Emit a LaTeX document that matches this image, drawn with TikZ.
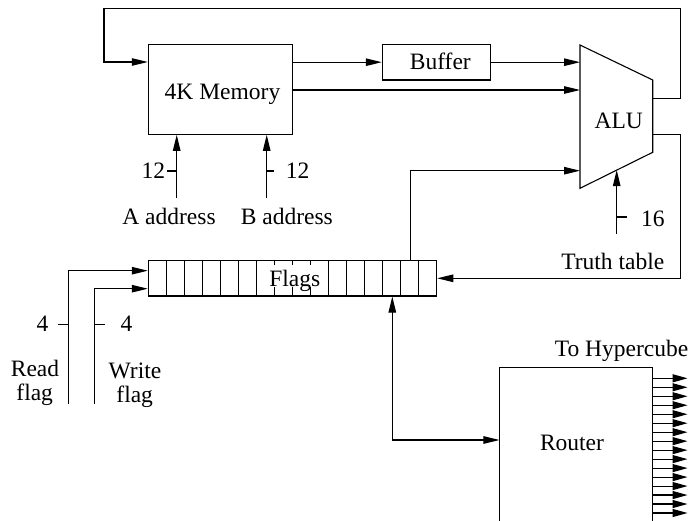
\documentclass[tikz,border=0pt]{standalone}
\usepackage{fontspec}
\setmainfont{Liberation Serif}
\usetikzlibrary{arrows.meta}
\begin{document}
\begin{tikzpicture}[x=1pt,y=-1pt,line width=1.1pt,
  every node/.style={font=\fontsize{23.5}{24}\selectfont,inner sep=0pt},
  arr/.style={-{Triangle[length=16pt,width=7.5pt]}},
  harr/.style={-{Triangle[length=15pt,width=8pt]}},
  bidir/.style={{Triangle[length=16pt,width=7.5pt]}-{Triangle[length=16pt,width=7.5pt]}},
  lbl/.style={anchor=base}]
\useasboundingbox (0,0) rectangle (692,521);

% blocks
\node[draw,minimum width=144pt,minimum height=90pt] (mem) at (220.3,89.3) {};
\node[lbl] (memt) at (222.5,100) {4K Memory};
\node[draw,minimum width=108.4pt,minimum height=35.7pt] (buf) at (436.5,62.2) {};
\node[lbl] (buft) at (440.3,70) {Buffer};

\coordinate (aluTL) at (580,45);
\coordinate (aluTR) at (652.7,80);
\coordinate (aluBR) at (652.7,152.3);
\coordinate (aluBL) at (580,188.3);
\draw (aluTL) -- (aluTR) -- (aluBR) -- (aluBL) -- cycle;
\node[lbl] (alut) at (618.7,128.3) {ALU};
\coordinate (aluB) at (616.7,170.1);

\node[draw,minimum width=288.4pt,minimum height=35.3pt] (flags) at (292.5,278.35) {};
\foreach \i in {1,...,15}
  \draw ({148.3+18.025*\i},260.7) -- ({148.3+18.025*\i},296);
\node[lbl,fill=white,text height=20pt,text depth=0pt,inner xsep=1.5pt,inner ysep=1pt] (flagst) at (294.8,286) {Flags};

\node[minimum width=152.3pt,minimum height=152.7pt] (router) at (576.15,444.65) {};
\draw (router.south west) -- (router.north west) -- (router.north east) -- (router.south east);
\node[lbl] (routert) at (572,450.7) {Router};
\node[lbl] (hyper) at (621.5,356) {To Hypercube};

% feedback loop ALU -> memory
\coordinate (fb1) at (680.7,98.3);
\coordinate (fb2) at (680.7,8.3);
\coordinate (fb3) at (104,8.3);
\coordinate (fb4) at (104,62);
\draw[arr] (aluTR |- fb1) -- (fb1) -- (fb2) -- (fb3) -- (fb4) -- (mem.west |- fb4);

% memory -> buffer -> ALU, memory -> ALU
\draw[arr] (mem.east |- buf.west) -- (buf.west);
\draw[arr] (buf.east) -- (aluTL |- buf.east);
\coordinate (m2) at (292.3,90);
\draw[arr] (m2) -- (aluTL |- m2);

% addresses
\coordinate (aa) at (176.7,198);
\coordinate (ba) at (266.7,198);
\draw[arr] (aa) -- (aa |- mem.south);
\draw[arr] (ba) -- (ba |- mem.south);
\draw (176.7,171) -- (166.7,171);
\draw (266.7,171) -- (274.3,171);
\node[lbl] (a12) at (153.3,178.3) {12};
\node[lbl] (b12) at (297.5,178.3) {12};
\node[lbl] (aat) at (169,224) {A address};
\node[lbl] (bat) at (286.8,224) {B address};

% flags -> ALU
\coordinate (fl1) at (410.7,170.7);
\draw[arr] (fl1 |- flags.north) -- (fl1) -- (aluTL |- fl1);

% truth table
\coordinate (tt) at (616.7,234);
\draw[arr] (tt) -- (aluB);
\draw (616.7,217) -- (626.5,217);
\node[lbl] (t16) at (652.8,226) {16};
\node[lbl] (ttt) at (612.8,269.3) {Truth table};

% ALU -> flags
\coordinate (af1) at (680.7,134.3);
\coordinate (af2) at (680.7,278.3);
\draw[arr] (aluBR |- af1) -- (af1) -- (af2) -- (flags.east |- af2);

% read / write flags
\coordinate (rf) at (68.3,404.3);
\coordinate (wf) at (94.7,404.3);
\draw[arr] (rf) -- (68.3,270.7) -- (flags.west |- 0,270.7);
\draw[arr] (wf) -- (94.7,288.7) -- (flags.west |- 0,288.7);
\draw (58.3,324.3) -- (68.3,324.3);
\draw (94.7,324.3) -- (105,324.3);
\node[lbl] (r4) at (42.5,331.7) {4};
\node[lbl] (w4) at (126.5,331.7) {4};
\node[lbl] (rt1) at (35,376.7) {Read};
\node[lbl] (rt2) at (34.7,400.5) {flag};
\node[lbl] (wt1) at (135,378.3) {Write};
\node[lbl] (wt2) at (134.7,402) {flag};

% flags <-> router
\coordinate (fr) at (392.3,440);
\draw[bidir] (fr |- flags.south) -- (fr) -- (router.west |- fr);

% hypercube outputs
\foreach \k in {0,...,15}
  \draw[harr] (router.north east |- 0,{378.3+8.98*\k}) -- (687.5,{378.3+8.98*\k});
\end{tikzpicture}
\end{document}
